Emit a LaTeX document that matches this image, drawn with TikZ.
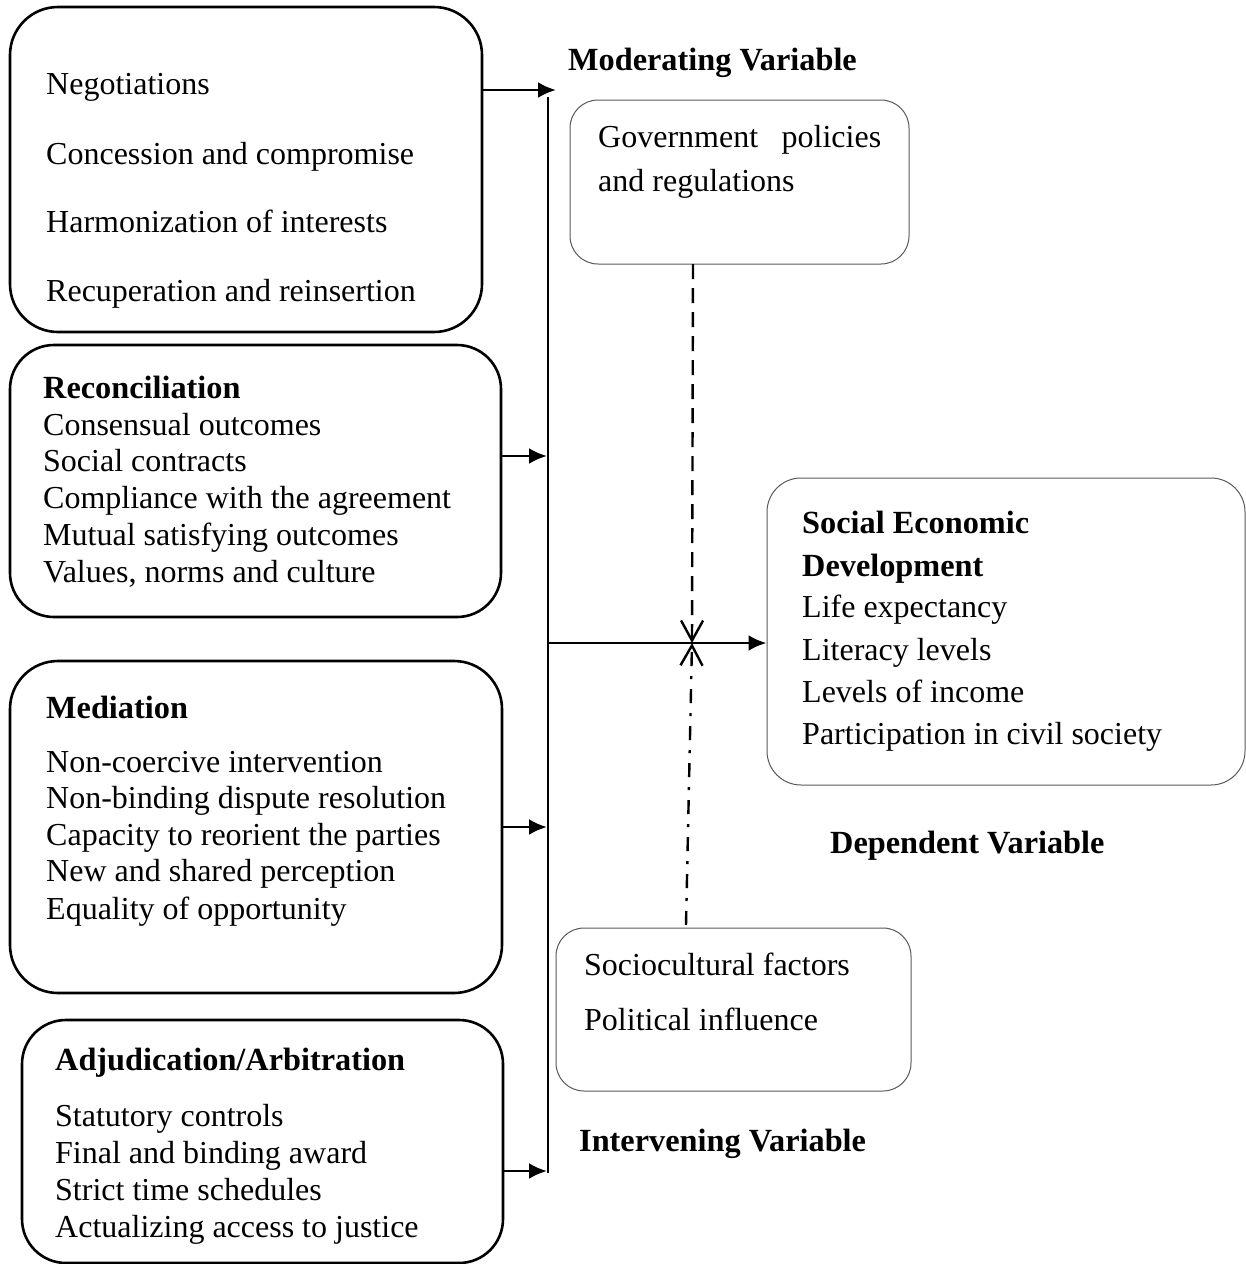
\documentclass[tikz,border=0pt]{standalone}
\usepackage{fontspec}
\setmainfont{Liberation Serif}
\usetikzlibrary{arrows.meta}

\tikzset{
  box/.style={draw=black, line width=2.6pt, rounded corners=48pt, inner sep=0pt},
  softbox/.style={draw=black!65, line width=1pt, rounded corners=28pt, inner sep=0pt},
  txt/.style={anchor=base west, inner sep=0pt, font=\fontsize{32}{37}\selectfont},
  head/.style={txt, font=\fontsize{32.3}{37}\selectfont\bfseries},
  link/.style={line width=2.8pt, -{Latex[length=18pt,width=16pt]}},
  spine/.style={line width=2.8pt},
  meet/.style={line width=2.4pt, -{Straight Barb[length=20pt,width=22pt,line width=2.4pt]}}
}

\begin{document}
\begin{tikzpicture}[x=1pt, y=-1pt]

\useasboundingbox (0,0) rectangle (1246,1264);

%
% Independent variable boxes
%

\node[box, minimum width=472pt, minimum height=325pt] (talks) at (246,169.5) {};
\node[box, rounded corners=44pt, minimum width=491pt, minimum height=272pt] (recon) at (255.5,481) {};
\node[box, minimum width=492pt, minimum height=332pt] (medi) at (256,827) {};
\node[box, rounded corners=44pt, minimum width=481pt, minimum height=243pt] (adju) at (262.5,1141.5) {};

% talks
\path
(46,94) node[txt] (neg) {Negotiations};
\path
(46,164) node[txt] (conc) {Concession and compromise};
\path
(46,232) node[txt] (harm) {Harmonization of interests};
\path
(46,301) node[txt] (recup) {Recuperation and reinsertion};

% reconciliation
\path
(43,398) node[head] (reconh) {Reconciliation};
\path
(43,435) node[txt] (cons) {Consensual outcomes};
\path
(43,471) node[txt] (contr) {Social contracts};
\path
(43,508) node[txt] (compl) {Compliance with the agreement};
\path
(43,545) node[txt] (mutu) {Mutual satisfying outcomes};
\path
(43,582) node[txt] (vals) {Values, norms and culture};

% mediation
\path
(46,718) node[head] (medih) {Mediation};
\path
(46,772) node[txt] (nonco) {Non-coercive intervention};
\path
(46,808) node[txt] (nonbi) {Non-binding dispute resolution};
\path
(46,845) node[txt] (capa) {Capacity to reorient the parties};
\path
(46,881) node[txt] (newsh) {New and shared perception};
\path
(46,919) node[txt] (equa) {Equality of opportunity};

% adjudication
\path
(55,1070) node[head] (adjuh) {Adjudication/Arbitration};
\path
(55,1126) node[txt] (statu) {Statutory controls};
\path
(55,1163) node[txt] (final) {Final and binding award};
\path
(55,1200) node[txt] (stric) {Strict time schedules};
\path
(55,1237) node[txt] (actu) {Actualizing access to justice};

%
% Moderating, dependent and intervening
%

\node[softbox, minimum width=339pt, minimum height=164pt] (moder) at (739.5,182) {};
\path
(568,70) node[head] (moderh) {Moderating Variable};
\path
(598,147) node[txt] (gov) {\makebox[283pt][s]{Government policies}};
\path
(598,191) node[txt] (regu) {and regulations};

\node[softbox, rounded corners=34pt, minimum width=478pt, minimum height=307pt] (dep) at (1006,631.5) {};
\path
(802,533) node[head] (socec) {Social Economic};
\path
(802,576) node[head] (devel) {Development};
\path
(802,617) node[txt] (life) {Life expectancy};
\path
(802,660) node[txt] (liter) {Literacy levels};
\path
(802,702) node[txt] (incom) {Levels of income};
\path
(802,744) node[txt] (parti) {Participation in civil society};
\path
(830,853) node[head] (deph) {Dependent Variable};

\node[softbox, minimum width=355pt, minimum height=163pt] (interv) at (733.5,1009.5) {};
\path
(584,975) node[txt] (socio) {Sociocultural factors};
\path
(584,1030) node[txt] (polit) {Political influence};
\path
(579,1151) node[head] (intervh) {Intervening Variable};

%
% Connectors
%

\coordinate (s1) at (556,90);
\coordinate (s2) at (547,456);
\coordinate (s3) at (547,827);
\coordinate (s4) at (547,1171);
\coordinate (spinetop) at (548,97);
\coordinate (spinebot) at (548,1173);
\coordinate (hub) at (548,643);
\coordinate (cross) at (692,643);
\coordinate (dashtop) at (693,264);
\coordinate (dotbot) at (686,925);

\draw[spine] (spinetop) -- (spinebot);

\draw[link] (talks.east |- s1) -- (s1);
\draw[link] (recon.east |- s2) -- (s2);
\draw[link] (medi.east |- s3) -- (s3);
\draw[link] (adju.east |- s4) -- (s4);
\draw[link] (hub) -- (dep.west |- hub);

% moderating and intervening lines
\draw[meet, dash pattern=on 15pt off 9pt] (dashtop) -- (cross);
\draw[meet, dash pattern=on 14pt off 10pt on 3pt off 10pt] (dotbot) -- (cross);

\end{tikzpicture}
\end{document}
